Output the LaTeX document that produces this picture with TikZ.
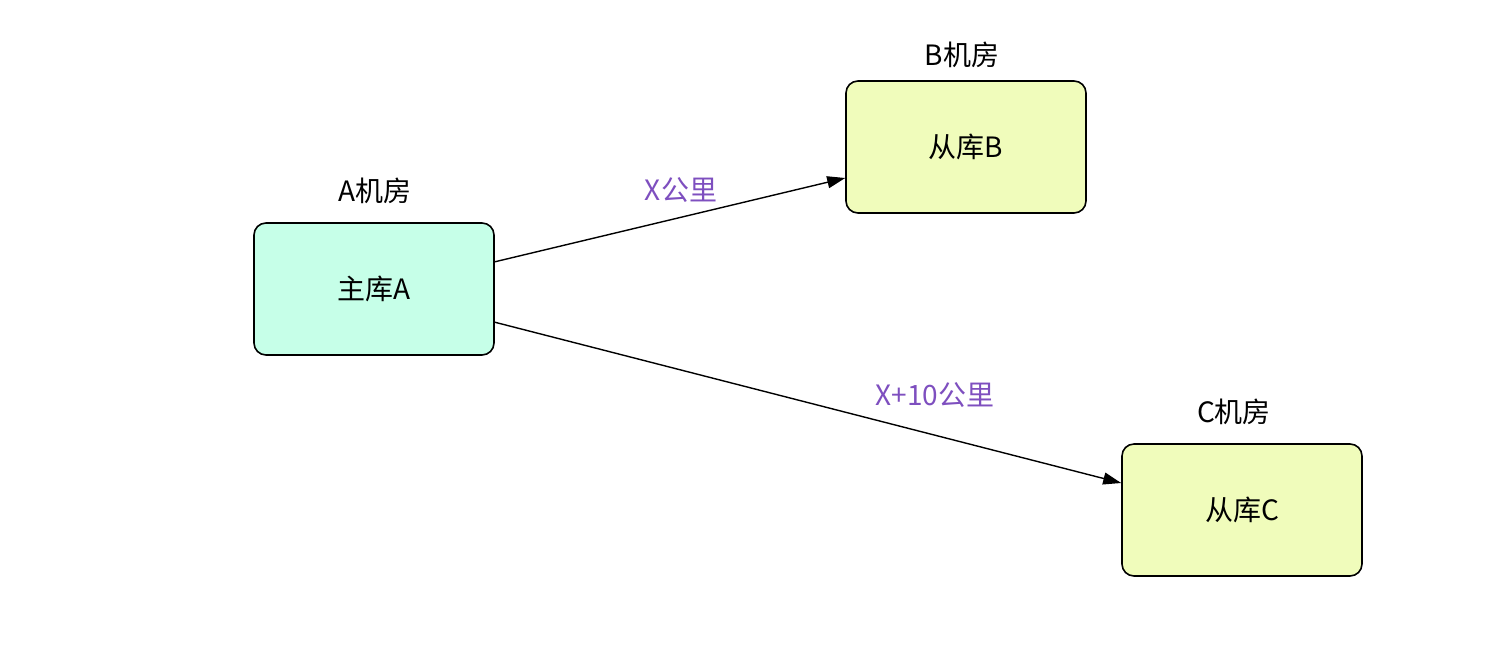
\documentclass[tikz,border=0pt]{standalone}
\usepackage{fontspec}
\setmainfont{Noto Sans CJK SC}
\usetikzlibrary{arrows.meta}
\definecolor{fa}{HTML}{C6FFE8}
\definecolor{fb}{HTML}{F0FCBB}
\definecolor{pur}{HTML}{7E4FBF}
\begin{document}
\begin{tikzpicture}[x=0.5pt,y=-0.5pt,
  box/.style={draw=black,line width=0.8pt,rounded corners=6pt,minimum width=120pt,minimum height=66pt,inner sep=0pt,font=\fontsize{14}{16}\selectfont},
  lbl/.style={font=\fontsize{14}{16}\selectfont,inner sep=0pt},
  elbl/.style={font=\fontsize{14}{16}\selectfont,text=pur,inner sep=0pt},
  conn/.style={line width=0.7pt,-{Triangle[length=9pt,width=6pt]}}]
\useasboundingbox (0,0) rectangle (1494,644);
\node[box,fill=fa] (a) at (374,289) {主库A};
\node[box,fill=fb] (b) at (966,147) {从库B};
\node[box,fill=fb] (c) at (1242,510) {从库C};
\node[lbl] (la) at (375,191) {A机房};
\node[lbl] (lb) at (962,55) {B机房};
\node[lbl] (lc) at (1234,412) {C机房};
\coordinate (a1) at (494,262);
\coordinate (a2) at (494,322);
\draw[conn] (a1) -- (b.west |- 0,178);
\draw[conn] (a2) -- (c.west |- 0,483);
\node[elbl] (x1) at (681,190) {X公里};
\node[elbl] (x2) at (935,395) {X+10公里};
\end{tikzpicture}
\end{document}
